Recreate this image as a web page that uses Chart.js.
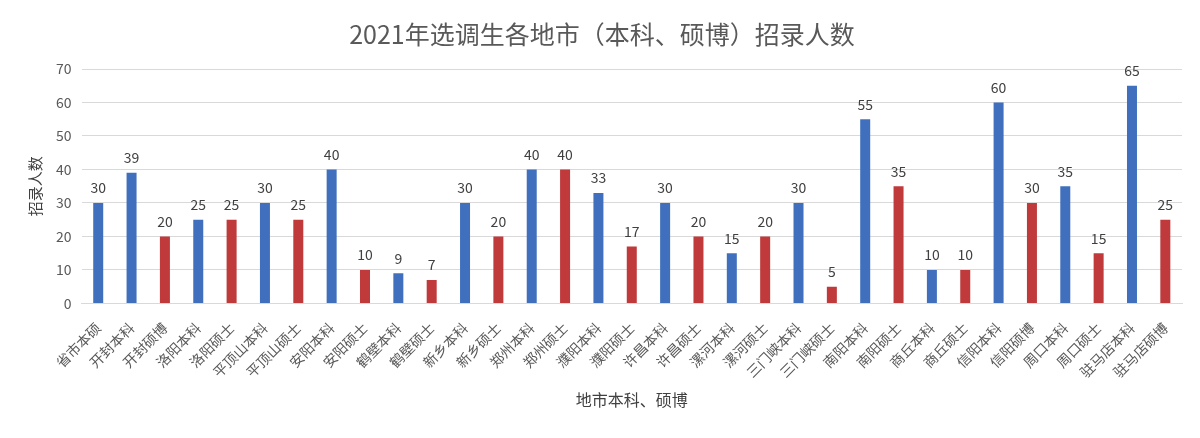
<!DOCTYPE html>
<html>
<head>
<meta charset="utf-8">
<script src="https://cdn.jsdelivr.net/npm/chart.js@4/dist/chart.umd.min.js"></script>
<style>
    html, body { margin: 0; padding: 0; background: #fff; }
    #wrap { width: 1200px; height: 438px; }
</style>
</head>
<body>
<div id="wrap"><canvas id="barChart" width="1200" height="438"></canvas></div>
<script>
// 2021 选调生 data
const categories = [
    '省市本硕', '开封本科', '开封硕博', '洛阳本科', '洛阳硕士', '平顶山本科', '平顶山硕士',
    '安阳本科', '安阳硕士', '鹤壁本科', '鹤壁硕士', '新乡本科', '新乡硕士', '郑州本科',
    '郑州硕士', '濮阳本科', '濮阳硕士', '许昌本科', '许昌硕士', '漯河本科', '漯河硕士',
    '三门峡本科', '三门峡硕士', '南阳本科', '南阳硕士', '商丘本科', '商丘硕士', '信阳本科',
    '信阳硕博', '周口本科', '周口硕士', '驻马店本科', '驻马店硕博'
];
const counts = [
    30, 39, 20, 25, 25, 30, 25, 40, 10, 9, 7, 30, 20, 40, 40, 33, 17,
    30, 20, 15, 20, 30, 5, 55, 35, 10, 10, 60, 30, 35, 15, 65, 25
];
const yTicks = [0, 10, 20, 30, 40, 50, 60, 70];

const FONT = '"Noto Sans CJK SC", "Noto Sans", sans-serif';
const BLUE = '#4070bd';
const RED = '#c0393b';

Chart.defaults.font.family = FONT;
Chart.defaults.color = '#595959';

// value labels above each bar
const barLabels = {
    id: 'barLabels',
    afterDatasetsDraw(chart) {
        const ctx = chart.ctx;
        const meta = chart.getDatasetMeta(0);
        ctx.save();
        ctx.font = '14px ' + FONT;
        ctx.fillStyle = '#404040';
        ctx.textAlign = 'center';
        ctx.textBaseline = 'bottom';
        meta.data.forEach((bar, i) => {
            ctx.fillText(counts[i], bar.x, bar.y - 8);
        });
        ctx.restore();
    }
};

const ctx = document.getElementById('barChart').getContext('2d');
new Chart(ctx, {
    type: 'bar',
    data: {
        labels: categories,
        datasets: [{
            label: '招录人数',
            data: counts,
            backgroundColor: categories.map(c => (c.includes('本科') || c.includes('本硕')) ? BLUE : RED),
            barPercentage: 0.6,
            categoryPercentage: 0.5
        }]
    },
    options: {
        responsive: false,
        animation: false,
        layout: { padding: { left: 22, right: 18, top: 0, bottom: 24 } },
        scales: {
            y: {
                min: 0,
                max: 70,
                afterBuildTicks: axis => { axis.ticks = yTicks.map(v => ({ value: v })); },
                ticks: { font: { size: 14 }, color: '#595959', padding: 10 },
                grid: { color: '#d9d9d9', drawTicks: false },
                border: { display: false },
                title: { display: true, text: '招录人数', font: { size: 15 }, color: '#404040', padding: { bottom: 2 } }
            },
            x: {
                ticks: { font: { size: 14 }, color: '#595959', minRotation: 45, maxRotation: 45, autoSkip: false, padding: 8 },
                grid: { display: false },
                border: { color: '#d9d9d9' },
                title: { display: true, text: '地市本科、硕博', font: { size: 16 }, color: '#404040', padding: { top: 2 } }
            }
        },
        plugins: {
            legend: { display: false },
            tooltip: { enabled: false },
            title: {
                display: true,
                text: '2021年选调生各地市（本科、硕博）招录人数',
                font: { size: 25, weight: 'normal' },
                color: '#595959',
                padding: { top: 19, bottom: 20 }
            }
        }
    },
    plugins: [barLabels]
});
</script>
</body>
</html>
